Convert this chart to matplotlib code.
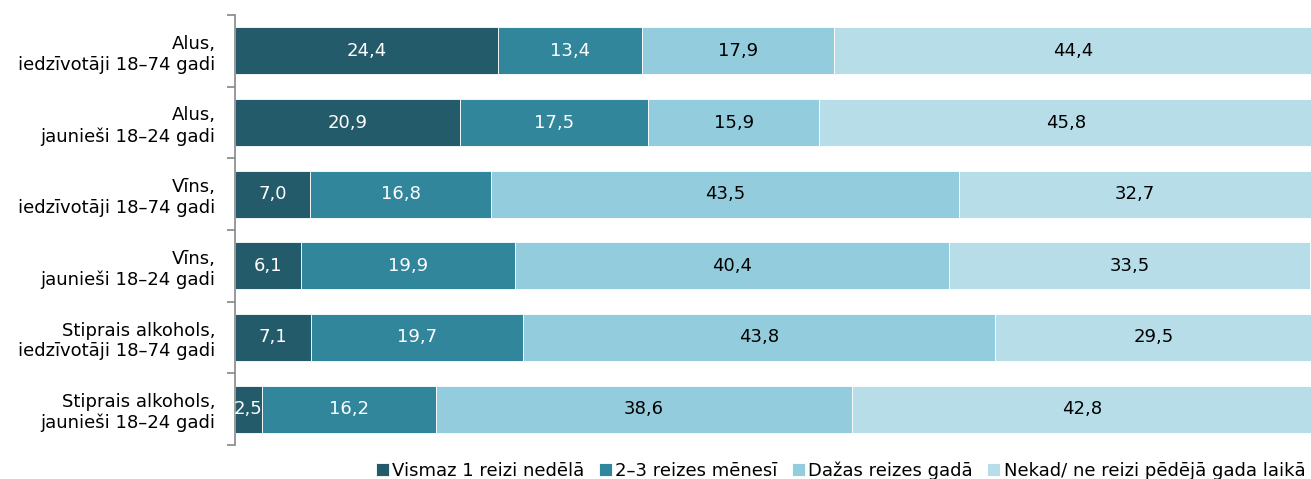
import matplotlib.pyplot as plt
import numpy as np

plt.rcParams['font.family'] = ['DejaVu Sans']

categories = [
    "Alus,\niedzīvotāji 18–74 gadi",
    "Alus,\njaunieši 18–24 gadi",
    "Vīns,\niedzīvotāji 18–74 gadi",
    "Vīns,\njaunieši 18–24 gadi",
    "Stiprais alkohols,\niedzīvotāji 18–74 gadi",
    "Stiprais alkohols,\njaunieši 18–24 gadi",
]
weekly = [24.4, 20.9, 7.0, 6.1, 7.1, 2.5]
monthly = [13.4, 17.5, 16.8, 19.9, 19.7, 16.2]
yearly = [17.9, 15.9, 43.5, 40.4, 43.8, 38.6]
never = [44.4, 45.8, 32.7, 33.5, 29.5, 42.8]
series_names = ["Vismaz 1 reizi nedēlā", "2–3 reizes mēnesī",
                "Dažas reizes gadā", "Nekad/ ne reizi pēdējā gada laikā"]

colors = ["#235B6A", "#31869B", "#93CDDD", "#B7DEE8"]
text_colors = ["white", "white", "black", "black"]
FS = 13

fig = plt.figure(figsize=(13.11, 4.79), dpi=100)
ax = fig.add_axes([235 / 1311, 1 - 445 / 479, 1 - 235 / 1311, 430 / 479])

y = np.arange(len(categories))
left = np.zeros(len(categories))
for vals, name, c, tc in zip([weekly, monthly, yearly, never], series_names, colors, text_colors):
    vals = np.array(vals)
    ax.barh(y, vals, left=left, height=0.66, color=c, label=name,
            edgecolor="white", linewidth=0.6)
    for yi, (l, v) in enumerate(zip(left, vals)):
        ax.text(l + v / 2, yi, f"{v:.1f}".replace(".", ","), ha="center",
                va="center", fontsize=FS, color=tc)
    left += vals

ax.set_ylim(len(categories) - 0.5, -0.5)
ax.set_xlim(0, 100)
ax.set_yticks(y)
ax.set_yticklabels(categories, fontsize=FS)
ax.set_yticks(np.arange(-0.5, len(categories)), minor=True)
ax.tick_params(axis="y", which="major", length=0, pad=14)
ax.tick_params(axis="y", which="minor", length=6, color="#888888", width=1.2)
ax.set_xticks([])
for s in ["top", "right", "bottom"]:
    ax.spines[s].set_visible(False)
ax.spines["left"].set_color("#888888")
ax.spines["left"].set_linewidth(1.2)

fig.legend(*ax.get_legend_handles_labels(), loc="lower right",
           bbox_to_anchor=(0.997, -0.005), ncol=4, frameon=False,
           fontsize=FS, handlelength=0.7, handleheight=0.7, handletextpad=0.2,
           columnspacing=0.8, borderaxespad=0, borderpad=0.1)

fig.savefig("out.png", dpi=100)
